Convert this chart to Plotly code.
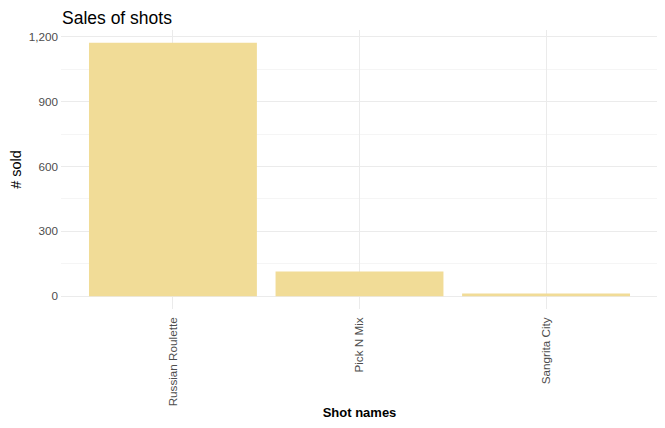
import plotly.graph_objects as go

shots = ["Russian Roulette", "Pick N Mix", "Sangrita City"]
sold = [1172, 115, 13]
y_ticks = [0, 300, 600, 900, 1200]
y_tick_labels = ["0", "300", "600", "900", "1,200"]

fig = go.Figure(go.Bar(x=shots, y=sold, marker=dict(color="#F1DC97", line=dict(width=0)), width=0.9))

# page body has an 8px offset; margins compensate
fig.update_layout(
    width=665, height=428,
    margin=dict(l=53, r=15, t=22, b=127),
    plot_bgcolor="white", paper_bgcolor="white",
    font=dict(family="Liberation Sans, Arial, sans-serif", color="#4d4d4d"),
    title=dict(text="Sales of shots", x=54/665, xanchor="left", y=1-10/428, yanchor="middle",
               font=dict(size=17.5, color="black")),
    showlegend=False,
    bargap=0.1,
)
fig.update_xaxes(
    range=[-0.6, 2.6], tickangle=-90, showgrid=True, gridcolor="#ebebeb", gridwidth=1.2,
    tickfont=dict(size=11.7, color="#4d4d4d"), ticks="", ticklabelstandoff=5,
    title=dict(text="<b>Shot names</b>", font=dict(size=13, color="black"), standoff=2),
    zeroline=False, showline=False, automargin=False,
)
fig.update_yaxes(
    range=[-58.6, 1230.6], tickvals=y_ticks, ticktext=y_tick_labels,
    showgrid=True, gridcolor="#ebebeb", gridwidth=1.2,
    minor=dict(tickvals=[150, 450, 750, 1050], showgrid=True, gridcolor="#f5f5f5", gridwidth=0.8),
    tickfont=dict(size=11.7, color="#4d4d4d"), ticklabelstandoff=2,
    title=dict(text="# sold", font=dict(size=14.5, color="black"), standoff=10),
    zeroline=False, showline=False, automargin=False,
)
fig.write_html("out.html")
